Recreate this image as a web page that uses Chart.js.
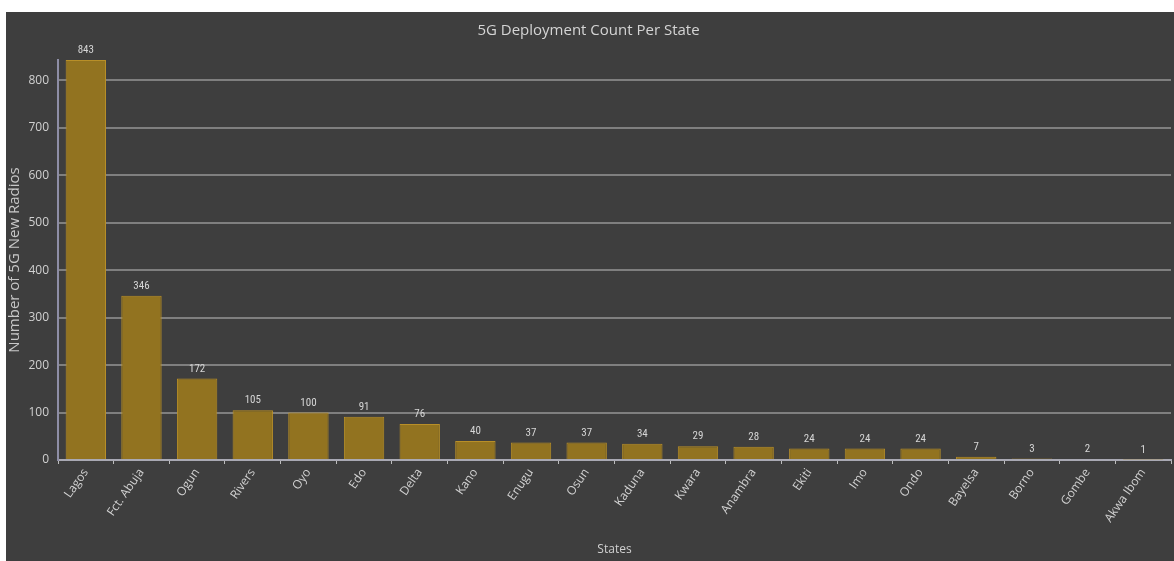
<!DOCTYPE html>
<html>
<head>
<meta charset="utf-8">
<script src="https://cdn.jsdelivr.net/npm/chart.js@4.4.1/dist/chart.umd.min.js"></script>
<style>
  html, body { margin: 0; padding: 0; background: #ffffff; }
  #wrap { position: absolute; left: 6px; top: 12px; width: 1168px; height: 549px; background: #3e3e3e; }
  canvas { display: block; }
</style>
</head>
<body>
<div id="wrap"><canvas id="c" width="1168" height="549"></canvas></div>
<script>
const states = ["Lagos", "Fct. Abuja", "Ogun", "Rivers", "Oyo", "Edo", "Delta", "Kano", "Enugu", "Osun", "Kaduna", "Kwara", "Anambra", "Ekiti", "Imo", "Ondo", "Bayelsa", "Borno", "Gombe", "Akwa Ibom"];
const radios = [843, 346, 172, 105, 100, 91, 76, 40, 37, 37, 34, 29, 28, 24, 24, 24, 7, 3, 2, 1];
const yTickStep = 100;
const yMax = 843;

const valueLabels = {
  id: 'valueLabels',
  afterDatasetsDraw(chart) {
    const ctx = chart.ctx;
    const meta = chart.getDatasetMeta(0);
    ctx.save();
    ctx.fillStyle = '#d6d6d6';
    ctx.font = '11px "Liberation Sans Narrow", "Roboto Condensed", "Open Sans", sans-serif';
    ctx.textAlign = 'center';
    ctx.textBaseline = 'bottom';
    meta.data.forEach((bar, i) => {
      ctx.fillText(String(chart.data.datasets[0].data[i]), bar.x, bar.y - 4);
    });
    ctx.restore();
  }
};

new Chart(document.getElementById('c'), {
  type: 'bar',
  data: {
    labels: states,
    datasets: [{
      data: radios,
      backgroundColor: '#927320',
      borderColor: '#b88f28',
      borderWidth: 1,
      barPercentage: 0.78,
      categoryPercentage: 0.93
    }]
  },
  options: {
    responsive: false,
    animation: false,
    layout: { padding: { left: 0, right: 3, top: 0, bottom: 0 } },
    plugins: {
      legend: { display: false },
      tooltip: { enabled: false },
      title: {
        display: true,
        text: '5G Deployment Count Per State',
        color: '#d4d4d4',
        font: { family: '"Open Sans", sans-serif', size: 15, weight: 'normal' },
        padding: { top: 10, bottom: 20 }
      }
    },
    scales: {
      x: {
        grid: { display: true, drawOnChartArea: false, color: '#bdbdbd', tickLength: 4, tickColor: '#bdbdbd' },
        border: { display: true, color: '#a9a9b3', width: 2 },
        ticks: {
          color: '#d0d0d0',
          font: { family: '"Open Sans", sans-serif', size: 12 },
          minRotation: 55, maxRotation: 55,
          autoSkip: false,
          padding: 2
        },
        title: {
          display: true, text: 'States', color: '#d0d0d0',
          font: { family: '"Open Sans", sans-serif', size: 12 },
          padding: { top: 0, bottom: 4 }
        },
        afterFit(s) { s.height = 101; }
      },
      y: {
        min: 0,
        max: yMax,
        grid: { color: '#7f7f7f', lineWidth: 2, drawTicks: false },
        border: { display: true, color: '#8e8ea6', width: 2 },
        ticks: {
          stepSize: yTickStep,
          includeBounds: false,
          color: '#d0d0d0',
          font: { family: '"Liberation Sans Narrow", "Open Sans", sans-serif', size: 12 },
          padding: 9
        },
        title: {
          display: true, text: 'Number of 5G New Radios', color: '#c8c8c8',
          font: { family: '"Open Sans", sans-serif', size: 15 },
          padding: { top: 0, bottom: 0 }
        },
        afterFit(s) { s.width = 52; }
      }
    }
  },
  plugins: [valueLabels]
});
</script>
</body>
</html>
